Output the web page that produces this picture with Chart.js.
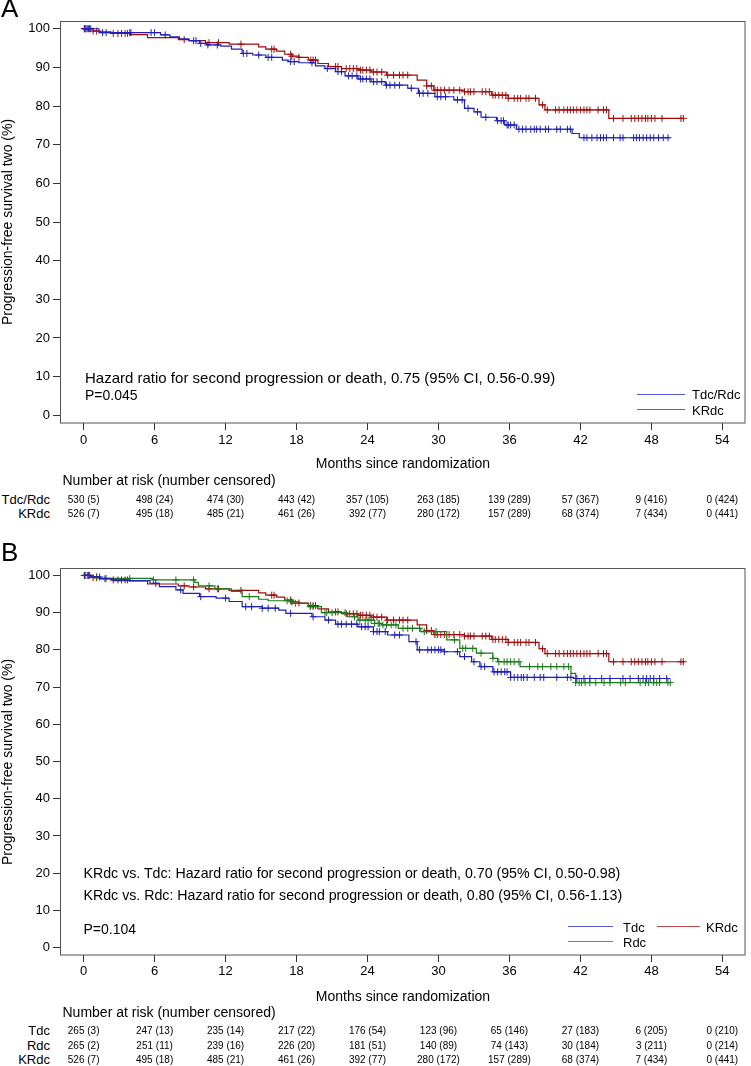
<!DOCTYPE html>
<html>
<head>
<meta charset="utf-8">
<script src="https://cdn.jsdelivr.net/npm/chart.js@4.4.0/dist/chart.umd.min.js"></script>
<style>
  body { margin: 0; background: #fff; }
  #page { position: relative; width: 751px; height: 1066px; overflow: hidden;
          font-family: "Liberation Sans", Arial, Helvetica, sans-serif; color: #000; }
  canvas { position: absolute; left: 0; }
  .txt { position: absolute; white-space: nowrap; line-height: 1; }
  .key { position: absolute; height: 1px; }
</style>
</head>
<body>
<div id="page">
  <canvas id="chartA" width="751" height="475" style="top:0px"></canvas>
  <canvas id="chartB" width="751" height="475" style="top:530px"></canvas>
</div>
<script>
// ---- data ----
const monthTicks = [0, 6, 12, 18, 24, 30, 36, 42, 48, 54];
const survTicks = [0, 10, 20, 30, 40, 50, 60, 70, 80, 90, 100];

// Panel A: Tdc/Rdc (pooled)
const tdcRdcTimes = [0, 1.3, 6.5, 7.3, 8.1, 8.9, 9.8, 10.4, 11.6, 12.5, 13.4, 14.3, 15.4, 16.8, 17.3, 18.2, 19.6, 20.4, 21.3, 22.1,
  23.2, 24.3, 25.5, 27.4, 28.3, 29.7, 31.3, 32.2, 33.0, 33.6, 34.9, 35.6, 36.6, 41.3, 41.9, 49.6];
const tdcRdcSurv = [100, 99.0, 98.4, 97.9, 97.4, 96.9, 96.2, 95.8, 95.5, 94.7, 93.6, 93.2, 92.6, 91.9, 91.5, 91.2, 90.4, 89.7, 88.9, 87.8,
  87.0, 86.3, 85.4, 84.6, 83.3, 82.4, 81.6, 79.4, 78.5, 77.1, 76.2, 75.1, 74.0, 72.9, 71.8, 71.8];
const tdcRdcCensored = [0.1, 0.2, 0.4, 0.6, 1.6, 1.9, 3.9, 4.0, 5.7, 6.0, 6.9, 9.5, 9.9, 10.5, 11.3, 13.5, 13.8, 14.8, 15.6, 15.9,
  17.5, 17.8, 19.3, 20.6, 21.5, 21.8, 22.4, 22.7, 23.1, 23.4, 23.6, 23.9, 24.2, 24.5, 24.8, 25.2, 25.6, 25.9, 26.3, 26.7,
  27.7, 28.4, 28.7, 29.1, 29.9, 30.2, 30.6, 31.6, 32.0, 32.5, 33.3, 34.0, 35.0, 35.3, 35.5, 35.8, 35.9, 36.1, 36.4, 36.8,
  37.1, 37.4, 37.8, 38.1, 38.3, 38.6, 39.05, 39.3, 40.0, 40.3, 40.9, 41.15, 42.3, 42.55, 42.97, 43.4, 43.7, 43.95, 44.2, 44.8,
  45.35, 45.6, 46.5, 46.75, 47.0, 47.3, 47.6, 47.9, 48.2, 48.6, 49.0, 49.4];

// KRdc (same arm in both panels)
const krdcTimes = [0, 0.8, 1.4, 2.3, 3.9, 5.4, 8.0, 8.9, 10.3, 12.3, 14.8, 15.4, 16.3, 17.0, 17.6, 18.2, 19.0, 19.8, 20.7, 21.8,
  23.2, 24.3, 25.6, 28.2, 29.0, 29.6, 32.2, 34.5, 35.9, 38.5, 39.0, 44.4, 50.7];
const krdcSurv = [100, 99.4, 99.2, 98.8, 98.5, 97.7, 97.2, 96.9, 96.4, 96.0, 95.3, 94.7, 94.2, 93.4, 92.9, 92.6, 91.9, 91.0, 90.2, 89.7,
  89.3, 88.8, 88.0, 86.7, 85.2, 84.1, 83.7, 82.8, 82.0, 80.3, 79.0, 76.8, 76.8];
const krdcCensored = [0.05, 0.1, 0.3, 0.5, 0.8, 1.1, 2.5, 2.9, 3.2, 3.5, 3.7, 8.5, 9.3, 10.6, 11.4, 13.3, 15.9, 16.1, 17.5, 17.6,
  18.2, 19.2, 19.4, 19.6, 21.3, 21.5, 22.2, 22.5, 22.8, 23.1, 23.4, 23.6, 23.9, 24.2, 24.5, 24.8, 25.2, 25.7, 26.2, 26.7,
  27.0, 27.4, 29.0, 29.4, 29.7, 29.9, 30.2, 30.5, 30.9, 31.3, 31.8, 32.2, 32.5, 32.7, 33.0, 33.7, 34.0, 34.3, 34.6, 34.8,
  35.1, 35.4, 35.7, 35.9, 36.4, 36.7, 36.95, 37.4, 37.65, 38.2, 38.8, 39.2, 39.9, 40.2, 40.6, 40.9, 41.15, 41.4, 41.7, 42.0,
  42.3, 42.55, 42.8, 43.5, 43.95, 44.2, 44.8, 45.6, 46.3, 46.6, 46.9, 47.2, 47.5, 47.7, 48.0, 48.3, 48.9, 50.5, 50.7];

// Panel B: Tdc and Rdc separately
const tdcTimes = [0, 0.6, 1.4, 2.5, 5.6, 6.4, 7.8, 8.4, 9.8, 11.2, 12.3, 13.4, 15.1, 16.5, 17.1, 19.3, 20.4, 21.3, 23.2, 24.5,
  25.7, 27.5, 28.2, 30.5, 31.8, 32.8, 33.5, 34.6, 36.1, 41.4, 49.3];
const tdcSurv = [100, 99.6, 99.1, 98.6, 97.9, 97.0, 96.1, 95.2, 94.3, 93.9, 93.0, 91.6, 91.2, 90.7, 89.8, 88.9, 88.0, 86.9, 86.2, 84.9,
  84.0, 82.2, 80.0, 79.5, 78.2, 76.8, 75.5, 74.1, 72.6, 72.3, 72.3];
const tdcCensored = [0.1, 0.4, 1.35, 1.8, 6.1, 8.2, 9.9, 12.0, 13.7, 14.2, 15.1, 15.6, 16.2, 17.5, 19.4, 20.7, 21.5, 21.8, 22.2, 22.65,
  23.1, 23.5, 23.8, 24.05, 24.5, 24.8, 25.0, 25.5, 26.3, 26.7, 28.1, 28.4, 29.1, 29.4, 29.7, 30.0, 30.2, 30.5, 31.6, 32.2,
  33.0, 33.6, 33.9, 34.7, 35.0, 35.3, 35.6, 35.8, 36.1, 36.4, 36.7, 37.0, 37.2, 37.5, 38.1, 38.6, 38.9, 40.0, 40.9, 41.2,
  41.7, 42.3, 42.8, 43.8, 44.5, 45.6, 46.2, 46.9, 47.3, 47.6, 47.9, 48.2, 48.7, 49.3];

const rdcTimes = [0, 0.6, 1.3, 5.8, 9.4, 9.7, 11.1, 12.5, 13.4, 14.8, 15.6, 17.6, 19.0, 20.1, 22.3, 23.2, 24.6, 25.2, 26.6, 28.5,
  30.7, 31.8, 33.2, 34.6, 35.0, 36.9, 41.2, 41.6, 49.6];
const rdcSurv = [100, 99.7, 99.2, 98.8, 98.1, 97.2, 96.4, 95.7, 94.3, 93.6, 93.2, 92.5, 91.6, 90.0, 88.9, 88.0, 87.1, 86.7, 85.8, 84.9,
  82.7, 80.4, 79.1, 77.7, 76.8, 75.5, 73.7, 71.2, 71.2];
const rdcCensored = [0.1, 0.5, 1.1, 1.9, 3.9, 5.9, 7.8, 9.3, 10.6, 11.3, 14.0, 17.2, 17.5, 17.9, 19.15, 19.4, 20.4, 20.55, 21.0, 22.1,
  22.9, 23.35, 23.8, 24.05, 24.3, 24.6, 24.9, 25.0, 25.3, 25.6, 26.0, 26.4, 27.0, 27.4, 27.8, 28.4, 28.8, 29.4, 29.8, 31.35,
  32.05, 32.3, 32.9, 33.6, 34.6, 35.1, 35.55, 35.8, 36.1, 36.4, 36.8, 37.7, 38.4, 38.8, 39.5, 40.0, 40.6, 41.0, 41.6, 41.9,
  42.1, 42.4, 42.8, 43.3, 44.0, 44.5, 45.4, 45.8, 47.05, 47.5, 47.75, 48.2, 48.45, 48.7, 49.4, 49.6];

// Number at risk (number censored)
const riskTdcRdc = ['530 (5)', '498 (24)', '474 (30)', '443 (42)', '357 (105)', '263 (185)', '139 (289)', '57 (367)', '9 (416)', '0 (424)'];
const riskKRdc = ['526 (7)', '495 (18)', '485 (21)', '461 (26)', '392 (77)', '280 (172)', '157 (289)', '68 (374)', '7 (434)', '0 (441)'];
const riskTdc = ['265 (3)', '247 (13)', '235 (14)', '217 (22)', '176 (54)', '123 (96)', '65 (146)', '27 (183)', '6 (205)', '0 (210)'];
const riskRdc = ['265 (2)', '251 (11)', '239 (16)', '226 (20)', '181 (51)', '140 (89)', '74 (143)', '30 (184)', '3 (211)', '0 (214)'];

// ---- drawing ----
const FONT = '"Liberation Sans", Arial, Helvetica, sans-serif';
const BLUE = '#1f1fb8';
const RED = '#a00d0d';
const GREEN = '#1b7b1b';
const page = document.getElementById('page');

function survAt(times, surv, t) {
  let v = surv[0];
  for (let i = 0; i < times.length; i++) {
    if (times[i] <= t) v = surv[i];
  }
  return v;
}

function addText(text, x, y, size, align, extra) {
  const d = document.createElement('div');
  d.className = 'txt';
  d.textContent = text;
  d.style.left = x + 'px';
  d.style.top = y + 'px';
  d.style.fontSize = size + 'px';
  const tx = align === 'center' ? '-50%' : align === 'right' ? '-100%' : '0';
  d.style.transform = `translate(${tx}, -50%)` + (extra || '');
  page.appendChild(d);
  return d;
}

// legend sample line (lighter, like the anti-aliased keys in the figure)
function addKey(x1, x2, y, color) {
  const d = document.createElement('div');
  d.className = 'key';
  d.style.left = x1 + 'px';
  d.style.width = (x2 - x1) + 'px';
  d.style.top = y + 'px';
  d.style.background = color;
  page.appendChild(d);
}

const framePlugin = {
  id: 'frame',
  afterDraw(chart) {
    const { ctx, chartArea: a } = chart;
    ctx.save();
    ctx.strokeStyle = '#555';
    ctx.lineWidth = 1;
    const l = Math.round(a.left) + 0.5, t = Math.round(a.top) + 0.5;
    ctx.strokeRect(l, t, Math.round(a.right) - 1 - l, Math.round(a.bottom) - t);
    ctx.restore();
  }
};

function makePanel(canvasId, groups, cfg) {
  const datasets = [];
  groups.forEach(g => {
    datasets.push({
      type: 'line',
      data: g.times.map((t, i) => ({ x: t, y: g.surv[i] })),
      borderColor: g.color,
      borderWidth: 1.2,
      stepped: true,
      pointRadius: 0,
      fill: false
    });
    datasets.push({
      type: 'scatter',
      data: g.censored.map(t => ({ x: t, y: survAt(g.times, g.surv, t) })),
      borderColor: g.color,
      backgroundColor: g.color,
      pointStyle: 'cross',
      pointRadius: 3.5,
      borderWidth: 1,
      showLine: false
    });
  });

  return new Chart(document.getElementById(canvasId), {
    type: 'line',
    data: { datasets },
    options: {
      responsive: false,
      animation: false,
      events: [],
      layout: { padding: { top: cfg.padTop, right: 2, left: 0, bottom: 0 } },
      plugins: { legend: { display: false }, tooltip: { enabled: false } },
      scales: {
        x: {
          type: 'linear', min: -2, max: 56,
          afterBuildTicks: s => { s.ticks = monthTicks.map(v => ({ value: v })); },
          afterFit: s => { s.height = cfg.xHeight; },
          grid: { drawOnChartArea: false, drawTicks: true, tickLength: 7, color: '#333' },
          border: { display: false },
          ticks: { autoSkip: false, maxRotation: 0, padding: cfg.xTickPad, color: '#000', font: { family: FONT, size: 13 } }
        },
        y: {
          type: 'linear', min: -2, max: 102,
          afterBuildTicks: s => { s.ticks = survTicks.map(v => ({ value: v })); },
          afterFit: s => { s.width = 60; },
          grid: { drawOnChartArea: false, drawTicks: true, tickLength: 7, color: '#333' },
          border: { display: false },
          ticks: { autoSkip: false, padding: 3, color: '#000', font: { family: FONT, size: 13 } }
        }
      }
    },
    plugins: [framePlugin]
  });
}

const chartA = makePanel('chartA', [
  { times: tdcRdcTimes, surv: tdcRdcSurv, censored: tdcRdcCensored, color: BLUE },
  { times: krdcTimes, surv: krdcSurv, censored: krdcCensored, color: RED }
], { padTop: 21, xHeight: 52, xTickPad: 3 });

const chartB = makePanel('chartB', [
  { times: tdcTimes, surv: tdcSurv, censored: tdcCensored, color: BLUE },
  { times: rdcTimes, surv: rdcSurv, censored: rdcCensored, color: GREEN },
  { times: krdcTimes, surv: krdcSurv, censored: krdcCensored, color: RED }
], { padTop: 38, xHeight: 50, xTickPad: 2 });

function riskTable(chart, headerY, rows) {
  addText('Number at risk (number censored)', 62.5, headerY, 14);
  rows.forEach(r => {
    addText(r.label, 50, r.y, 13, 'right');
    r.values.forEach((v, i) => {
      addText(v, chart.scales.x.getPixelForValue(monthTicks[i]), r.y, 10, 'center', ' scaleY(1.18)');
    });
  });
}

function axisTitles(chart, top) {
  const a = chart.chartArea;
  addText('Progression-free survival two (%)', 7, top + (a.top + a.bottom) / 2, 14, 'center', ' rotate(-90deg)');
  return (a.left + a.right) / 2;
}

// Panel A
addText('A', 1, 8, 26);
const midA = axisTitles(chartA, 0);
addText('Months since randomization', midA, 463.3, 14, 'center');
addText('Hazard ratio for second progression or death, 0.75 (95% CI, 0.56-0.99)', 85, 376.7, 15);
addText('P=0.045', 85, 395, 14);
addKey(637, 685, 394, '#5656d6');
addText('Tdc/Rdc', 692, 394, 13);
addKey(637, 685, 409, '#c64a4a');
addText('KRdc', 692, 409.5, 13);
riskTable(chartA, 480, [
  { label: 'Tdc/Rdc', y: 499, values: riskTdcRdc },
  { label: 'KRdc', y: 513, values: riskKRdc }
]);

// Panel B
addText('B', 1, 552, 26);
const midB = axisTitles(chartB, 530);
addText('Months since randomization', midB, 995.7, 14, 'center');
addText('KRdc vs. Tdc: Hazard ratio for second progression or death, 0.70 (95% CI, 0.50-0.98)', 83.5, 873, 14.2);
addText('KRdc vs. Rdc: Hazard ratio for second progression or death, 0.80 (95% CI, 0.56-1.13)', 83.5, 895, 14.2);
addText('P=0.104', 83.5, 929, 14);
addKey(568, 613, 926, '#5656d6');
addText('Tdc', 623, 927, 13);
addKey(657, 700, 926, '#c64a4a');
addText('KRdc', 706, 927, 13);
addKey(568, 613, 941, '#4a9e4a');
addText('Rdc', 623, 942, 13);
riskTable(chartB, 1012, [
  { label: 'Tdc', y: 1030, values: riskTdc },
  { label: 'Rdc', y: 1044.5, values: riskRdc },
  { label: 'KRdc', y: 1059, values: riskKRdc }
]);
</script>
</body>
</html>
